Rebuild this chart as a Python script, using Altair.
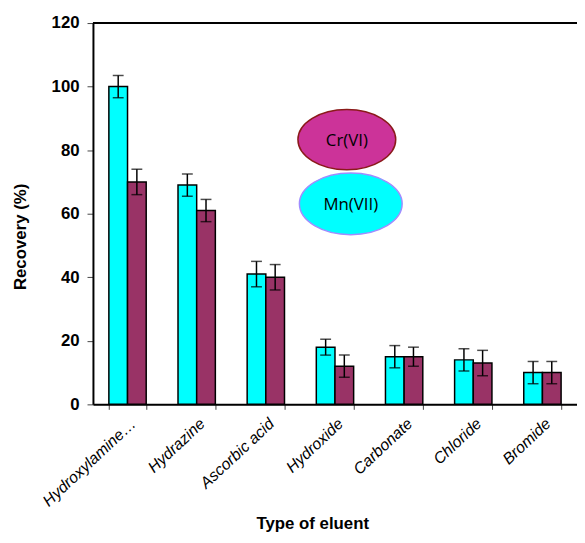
import altair as alt
import pandas as pd

eluents = ["Hydroxylamine…", "Hydrazine", "Ascorbic acid", "Hydroxide",
           "Carbonate", "Chloride", "Bromide"]
series = ["Mn(VII)", "Cr(VI)"]
mn_vals = [100, 69, 41, 18, 15, 14, 10]
mn_err = [3.5, 3.5, 4, 2.5, 3.5, 3.5, 3.5]
cr_vals = [70, 61, 40, 12, 15, 13, 10]
cr_err = [4, 3.5, 4, 3.5, 3, 4, 3.5]
y_ticks = [0, 20, 40, 60, 80, 100, 120]

bar_colors = ["#00FFFF", "#993366"]

rows = []
for i, e in enumerate(eluents):
    rows.append({"eluent": e, "series": series[0], "value": mn_vals[i],
                 "lo": mn_vals[i] - mn_err[i], "hi": mn_vals[i] + mn_err[i]})
    rows.append({"eluent": e, "series": series[1], "value": cr_vals[i],
                 "lo": cr_vals[i] - cr_err[i], "hi": cr_vals[i] + cr_err[i]})
df = pd.DataFrame(rows)
one = pd.DataFrame({"k": [0]})

W, H = 490, 386
FONT = "Liberation Sans"

x = alt.X("eluent:N", sort=eluents,
          scale=alt.Scale(paddingInner=0.46, paddingOuter=0.23),
          axis=alt.Axis(title="Type of eluent", labelAngle=-43, labelAlign="right",
                        labelBaseline="top", labelFontStyle="italic", labelFontSize=16,
                        labelFont=FONT, labelColor="black", labelPadding=6,
                        tickBand="extent", tickSize=5, tickColor="#444", tickWidth=1,
                        domainColor="black", domainWidth=2,
                        titleFont=FONT, titleFontSize=17, titleFontWeight="bold",
                        titleColor="black", titleX=222, titleY=126,
                        titleAlign="center", titleBaseline="alphabetic", titleAnchor="start"))
xo = alt.XOffset("series:N", sort=series, scale=alt.Scale(paddingInner=0, paddingOuter=0))
ysc = alt.Scale(domain=[0, 120], nice=False)
y = alt.Y("value:Q", scale=ysc,
          axis=alt.Axis(title="Recovery (%)", values=y_ticks, grid=False,
                        labelFont=FONT, labelFontSize=17, labelFontWeight="bold",
                        labelColor="black", labelPadding=8, tickSize=6, tickColor="#444",
                        domainColor="black", domainWidth=2,
                        titleFont=FONT, titleFontSize=17, titleFontWeight="bold",
                        titleColor="black", titleX=-73, titleY=216,
                        titleAngle=270, titleAlign="center", titleBaseline="middle",
                        titleAnchor="start"))

bars = alt.Chart(df).mark_bar(stroke="black", strokeWidth=1.5).encode(
    x=x, xOffset=xo, y=y,
    color=alt.Color("series:N", sort=series,
                    scale=alt.Scale(domain=series, range=bar_colors), legend=None),
)

err = alt.Chart(df).mark_rule(color="black", strokeWidth=1.5).encode(
    x=alt.X("eluent:N", sort=eluents), xOffset=xo,
    y=alt.Y("lo:Q", scale=ysc), y2="hi:Q",
)
cap_lo = alt.Chart(df).mark_tick(color="black", thickness=1.5, size=11, orient="horizontal").encode(
    x=alt.X("eluent:N", sort=eluents), xOffset=xo, y=alt.Y("lo:Q", scale=ysc),
)
cap_hi = alt.Chart(df).mark_tick(color="black", thickness=1.5, size=11, orient="horizontal").encode(
    x=alt.X("eluent:N", sort=eluents), xOffset=xo, y=alt.Y("hi:Q", scale=ysc),
)

top_line = alt.Chart(one).mark_rule(color="black", strokeWidth=2).encode(
    x=alt.value(0), x2=alt.value(W), y=alt.value(0))

ell_cr = "M-1,0A1,0.616,0,1,1,1,0A1,0.616,0,1,1,-1,0Z"
ell_mn = "M-1,0A1,0.6,0,1,1,1,0A1,0.6,0,1,1,-1,0Z"

leg_cr = alt.Chart(one).mark_point(shape=ell_cr, filled=True, fill="#CC3399",
                                   stroke="#8B1A1A", strokeWidth=1.5, size=99 * 99,
                                   opacity=1).encode(
    x=alt.value(257), y=alt.value(118))
leg_mn = alt.Chart(one).mark_point(shape=ell_mn, filled=True, fill="#00FFFF",
                                   stroke="#A08CFF", strokeWidth=1.5, size=104 * 104,
                                   opacity=1).encode(
    x=alt.value(261), y=alt.value(183))
txt_cr = alt.Chart(one).mark_text(text=series[1], font="Open Sans", fontSize=17,
                                  fontWeight="normal", color="black").encode(
    x=alt.value(257), y=alt.value(119))
txt_mn = alt.Chart(one).mark_text(text=series[0], font="Open Sans", fontSize=17,
                                  fontWeight="normal", color="black").encode(
    x=alt.value(261), y=alt.value(184))

chart = alt.layer(bars, err, cap_lo, cap_hi, top_line, leg_cr, leg_mn, txt_cr, txt_mn).properties(
    width=W, height=H,
    autosize=alt.AutoSizeParams(type="none"),
    padding={"left": 86, "top": 12, "right": 0, "bottom": 129},
).configure_view(stroke=None).configure(background="white")

chart.save("out.html", embed_options={"renderer": "svg", "actions": False})
